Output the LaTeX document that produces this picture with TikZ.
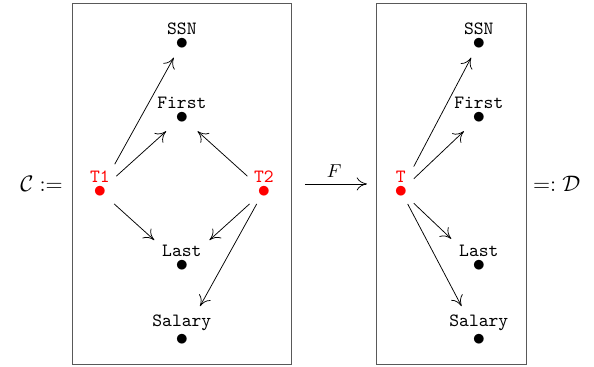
\documentclass[tikz,border=0pt]{standalone}
\usepackage{amsmath}
\usepackage{amssymb}
\usepackage{tikz}
\usetikzlibrary{positioning,fit,cd,arrows.meta}

\newcommand{\objdot}[1]{\shortstack{\texttt{#1}\\[-1pt]\raisebox{-0.875pt}{\scalebox{1.35}{$\bullet$}}}}

\begin{document}
\begin{tikzpicture}[node distance=1.391cm,
  >={Computer Modern Rightarrow[length=5.5pt,width=7pt]},
  obj/.style={shape=asymmetrical rectangle,on grid},
  gen/.style={obj,text=red},
  frame/.style={draw=black!65,inner xsep=6pt,inner ysep=6.6pt}]
  \useasboundingbox (-3.42,0.81) rectangle (7.75,-6.09);

  % the category C
  \node[obj]  (ssn1) at (0,0)              {\objdot{SSN}};
  \node[obj]  (fst1) [below=of ssn1]       {\objdot{First}};
  \node[gen]  (t1)   [below left=1.391cm and 1.542cm of fst1]  {\objdot{T1}};
  \node[gen]  (t2)   [below right=1.391cm and 1.542cm of fst1] {\objdot{T2}};
  \node[obj]  (lst1) [below=2.782cm of fst1] {\objdot{Last}};
  \node[obj]  (sal1) [below=of lst1]       {\objdot{Salary}};

  % the category D
  \node[obj]  (ssn2) [right=5.584cm of ssn1] {\objdot{SSN}};
  \node[obj]  (fst2) [below=of ssn2]       {\objdot{First}};
  \node[gen]  (t)    [below left=1.391cm and 1.466cm of fst2] {\objdot{T}};
  \node[obj]  (lst2) [below=2.782cm of fst2] {\objdot{Last}};
  \node[obj]  (sal2) [below=of lst2]       {\objdot{Salary}};

  \node[frame,fit=(ssn1)(t1)(t2)(sal1)] (C) {};
  \node[frame,fit=(ssn2)(t)(sal2)]      (D) {};
  \node[left=1.3pt of C] (cdef) {\large$\mathcal{C} :=$};
  \node[right=0pt of D]  (ddef) {\large$=: \mathcal{D}$};
  \draw[->,shorten <=7pt,shorten >=5pt] (C) -- node[above] {$F$} (D);

  \path[->,shorten >=1pt]
           (t1) edge (ssn1)
           (t1) edge (fst1)
           (t1) edge (lst1)
           (t2) edge (fst1)
           (t2) edge (lst1)
           (t2) edge (sal1)

           (t) edge (ssn2)
           (t) edge (fst2)
           (t) edge (lst2)
           (t) edge (sal2)
           ;
\end{tikzpicture}
\end{document}
